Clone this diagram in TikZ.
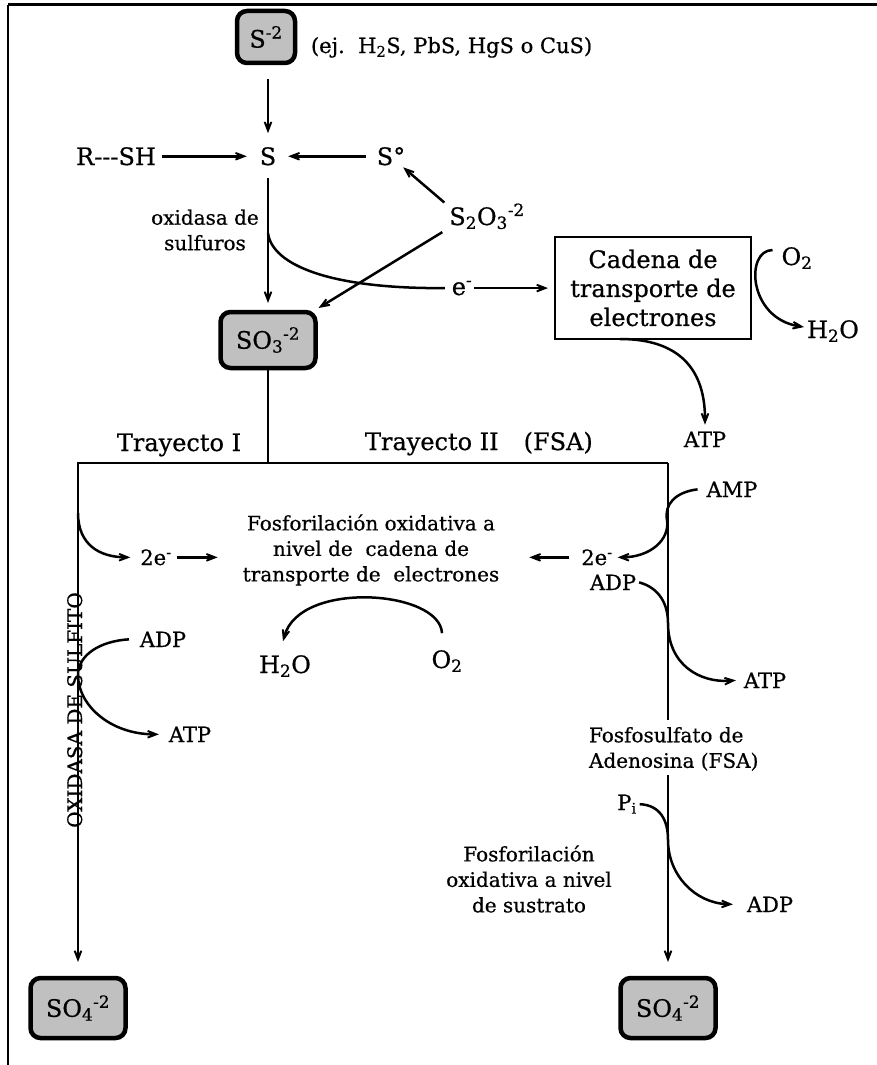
\documentclass[tikz,border=0pt]{standalone}
\usepackage{fontspec}
\setmainfont{DejaVu Serif}[FakeBold=0.6]
\usetikzlibrary{arrows.meta}
\definecolor{boxgray}{RGB}{192,192,192}
\begin{document}
\begin{tikzpicture}[x=1pt,y=-1pt,
  every node/.style={inner sep=0pt, outer sep=0pt},
  big/.style={font=\fontsize{24}{29}\selectfont},
  med/.style={font=\fontsize{21}{25}\selectfont},
  sml/.style={font=\fontsize{20}{25.5}\selectfont},
  ion/.style={draw, line width=4.5pt, rounded corners=10pt, fill=boxgray,
              font=\fontsize{24}{29}\selectfont},
  link/.style={line width=2.5pt},
  arr/.style={line width=2.5pt, -{Stealth[length=22pt,width=17pt,inset=15pt]}},
]
\useasboundingbox (0,0) rectangle (877,1065);
\fill[white] (0,0) rectangle (877,1065);

% frame
\draw[line width=3pt] (8,5) -- (877,5);
\draw[line width=2.5pt] (8,5) -- (8,1065);

% top: sulfide and its sources
\node[ion, minimum width=58pt, minimum height=52pt] (s2) at (266,37) {S\textsuperscript{-2}};
\node[anchor=base west, font=\fontsize{21}{25}\selectfont] (ej) at (311,53) {(ej.\ \ H\textsubscript{2}S, PbS, HgS o CuS)};
\node[big, anchor=base] (S) at (268,165) {S};
\node[big, anchor=base] (rsh) at (116,165) {R-{}-{}-SH};
\node[big, anchor=base] (S0) at (391,165) {S°};
\node[big, anchor=base] (s2o3) at (487,225) {S\textsubscript{2}O\textsubscript{3}\textsuperscript{-2}};
\node[sml, align=center] (oxs) at (205,230) {oxidasa de\\sulfuros};
\node[big, anchor=base] (e) at (462,295) {e\textsuperscript{-}};
\node[draw, line width=2pt, minimum width=196pt, minimum height=102pt, big, align=center]
  (cad) at (653,288) {Cadena de\\transporte de\\electrones};
\node[big, anchor=base] (o2r) at (797,265) {O\textsubscript{2}};
\node[big, anchor=base] (h2or) at (833,338) {H\textsubscript{2}O};
\node[med, anchor=base] (atp0) at (705,447) {ATP};
\node[ion, minimum width=95pt, minimum height=56pt] (so3) at (268,340) {SO\textsubscript{3}\textsuperscript{-2}};

% pathway labels
\node[big, anchor=base] (t1) at (179,451) {Trayecto I};
\node[big, anchor=base west] (t2) at (365,450) {Trayecto II\hspace{25pt}(FSA)};

% pathway I
\node[med, anchor=base] (e2l) at (156,565) {2e\textsuperscript{-}};
\node[sml, align=center] (fos) at (371,550) {Fosforilación oxidativa a\\nivel de\ \ cadena de\\transporte de\ \ electrones};
\node[big, anchor=base] (h2ol) at (285,673) {H\textsubscript{2}O};
\node[big, anchor=base] (o2l) at (447,668) {O\textsubscript{2}};
\node[med, anchor=base] (adpl) at (163,647) {ADP};
\node[med, anchor=base] (atpl) at (190,742) {ATP};
\node[sml, rotate=90, anchor=base] (oxl) at (82,710) {OXIDASA DE SULFITO};
\node[ion, minimum width=95pt, minimum height=60pt] (so4l) at (78,1008) {SO\textsubscript{4}\textsuperscript{-2}};

% pathway II
\node[med, anchor=base] (e2r) at (597,565) {2e\textsuperscript{-}};
\node[med, anchor=base] (amp) at (732,497) {AMP};
\node[med, anchor=base] (adpr) at (613,590) {ADP};
\node[med, anchor=base] (atpr) at (765,688) {ATP};
\node[sml, anchor=west, align=left] (fsa) at (589,749) {Fosfosulfato de\\Adenosina (FSA)};
\node[med, anchor=base] (pi) at (627,810) {P\textsubscript{i}};
\node[med, anchor=base] (adpb) at (770,912) {ADP};
\node[sml, align=center] (fsus) at (529,879) {Fosforilación\\oxidativa a nivel\\de sustrato};
\node[ion, minimum width=95pt, minimum height=60pt] (so4r) at (668,1008) {SO\textsubscript{4}\textsuperscript{-2}};

% sulfur inputs
\draw[arr, shorten <=16pt, shorten >=14pt] (s2.south -| S) -- (S.north);
\draw[arr, shorten <=6pt, shorten >=13pt] (rsh.east) -- (S.west);
\draw[arr, shorten <=11pt, shorten >=12pt] (S0.west) -- (S.east);
\draw[arr] ([shift={(-5,-1)}]s2o3.north west) -- ([shift={(-2,2)}]S0.south east);
\draw[arr] ([shift={(-7,3)}]s2o3.south west) -- ([shift={(3,-4)}]so3.north east);
\draw[arr, shorten <=13pt, shorten >=9pt] (S.south) -- (so3.north);

% electrons to the transport chain
\coordinate (sx) at (268,233);
\draw[link] (sx) .. controls (272,265) and (330,289) .. ([xshift=-7pt]e.west);
\draw[arr, shorten <=2pt, shorten >=7pt] (e.east) -- (e.east -| cad.west);
\draw[arr] ([shift={(-9,-8)}]o2r.west) .. controls (745,250) and (748,318) .. ([shift={(-3,-4)}]h2or.west);
\draw[arr] ([xshift=-33pt]cad.south) .. controls (680,339) and (705,370) .. ([yshift=7pt]atp0.north);

% branching
\coordinate (jn) at (268,463);
\coordinate (jl) at (78,463);
\coordinate (jr) at (668,463);
\coordinate (rgap1) at (668,720);
\coordinate (rgap2) at (668,775);
\draw[link] (so3.south) -- (jn);
\draw[arr, shorten >=16pt] (jr) -- (jl) -- (so4l.north);
\draw[link] (jr) -- (rgap1);
\draw[arr, shorten >=16pt] (rgap2) -- (so4r.north);

% pathway I reactions
\coordinate (l1) at (78,513);
\draw[arr] (l1) .. controls (78,545) and (100,557) .. ([xshift=-10pt]e2l.west);
\draw[arr, shorten <=5pt, shorten >=25pt] (e2l.east) -- (e2l.east -| fos.west);
\draw[arr, shorten <=12pt, shorten >=30pt] (e2r.west) -- (e2r.west -| fos.east);
\draw[arr] ([shift={(-5,-17)}]o2l.north) .. controls (440,590) and (300,580) .. ([shift={(-2,-14)}]h2ol.north);
\coordinate (l2) at (78,675);
\draw[link] ([xshift=-11pt]adpl.west) .. controls (100,641) and (78,655) .. (l2);
\draw[arr] (l2) .. controls (78,705) and (110,734) .. ([xshift=-10pt]atpl.west);

% pathway II reactions
\coordinate (r1) at (667,520);
\draw[link] ([xshift=-9pt]amp.west) .. controls (675,492) and (664,505) .. (r1);
\draw[arr] (r1) .. controls (670,540) and (650,557) .. ([xshift=5pt]e2r.east);
\coordinate (r2) at (668,623);
\draw[link] ([xshift=3pt]adpr.east) .. controls (660,588) and (668,605) .. (r2);
\draw[arr] (r2) .. controls (668,665) and (700,683) .. ([xshift=-8pt]atpr.west);
\coordinate (r3) at (668,840);
\draw[link] ([xshift=3pt]pi.east) .. controls (660,805) and (668,820) .. (r3);
\draw[arr] (r3) .. controls (668,875) and (695,903) .. ([xshift=-14pt]adpb.west);
\end{tikzpicture}
\end{document}
